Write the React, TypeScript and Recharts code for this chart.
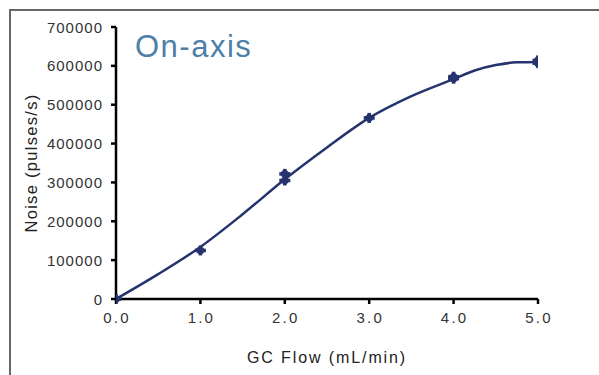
import { ComposedChart, Line, Scatter, XAxis, YAxis } from 'recharts'

// fitted curve through the measurements
const curveFlow = [0, 0.5, 1.0, 1.5, 2.0, 2.5, 3.0, 3.5, 4.0, 4.25, 4.5, 4.75, 5.0]
const curveNoise = [0, 64000, 134000, 218000, 308000, 390000, 466000, 522000, 566000, 588000, 602000, 609000, 610000]

// replicate measurements
const pointFlow = [0, 1.0, 2.0, 2.0, 3.0, 4.0, 4.0, 5.0, 5.0]
const pointNoise = [0, 125000, 305000, 322000, 466000, 567000, 572000, 607000, 614000]

const xTicks = [0, 1, 2, 3, 4, 5]
const yTicks = [0, 100000, 200000, 300000, 400000, 500000, 600000, 700000]

const curve = curveFlow.map((x, i) => ({ x, y: curveNoise[i] }))
const points = pointFlow.map((x, i) => ({ x, y: pointNoise[i] }))

const navy = '#26336d'
const font = 'Liberation Sans, Arial, sans-serif'

function StarMark(props: any) {
  const { cx, cy } = props
  if (cx == null || cy == null) return null
  return (
    <g fill={navy}>
      <rect x={cx - 5.5} y={cy - 1.8} width={11} height={3.6} />
      <rect x={cx - 1.8} y={cy - 5} width={3.6} height={10} />
      <circle cx={cx} cy={cy} r={3.8} />
    </g>
  )
}

function XTick(props: any) {
  const { x, y, payload } = props
  return (
    <text x={x + 1} y={y + 10} textAnchor="middle" fill="#333" style={{ fontSize: 15, letterSpacing: '2.2px', fontFamily: font }}>
      {Number(payload.value).toFixed(1)}
    </text>
  )
}

function YTick(props: any) {
  const { x, y, payload } = props
  return (
    <text x={x + 1} y={y + 5.5} textAnchor="end" fill="#333" style={{ fontSize: 15, letterSpacing: '1px', fontFamily: font }}>
      {payload.value}
    </text>
  )
}

export default function App() {
  return (
    <div style={{ position: 'absolute', left: 0, top: 0, width: 599, height: 375, overflow: 'hidden', background: '#fff' }}>
      <div
        style={{
          position: 'absolute', left: 9, top: 9, width: 620, height: 400,
          borderTop: '2px solid #666', borderLeft: '2px solid #666',
        }}
      />
      <ComposedChart width={599} height={375} margin={{ top: 27, right: 61, bottom: 46, left: 16 }}>
        <XAxis
          type="number"
          dataKey="x"
          domain={[0, 5]}
          ticks={xTicks}
          allowDataOverflow
          height={30}
          tick={<XTick />}
          tickSize={5}
          tickMargin={9}
          axisLine={{ stroke: '#000', strokeWidth: 2.5 }}
          tickLine={{ stroke: '#000', strokeWidth: 2.5 }}
        />
        <YAxis
          type="number"
          dataKey="y"
          domain={[0, 700000]}
          ticks={yTicks}
          width={100}
          tick={<YTick />}
          tickSize={5}
          tickMargin={9}
          axisLine={{ stroke: '#000', strokeWidth: 2.5 }}
          tickLine={{ stroke: '#000', strokeWidth: 2.5 }}
        />
        <Line
          data={curve}
          dataKey="y"
          type="monotone"
          stroke={navy}
          strokeWidth={2.5}
          dot={false}
          isAnimationActive={false}
        />
        <Scatter data={points} dataKey="y" shape={StarMark} isAnimationActive={false} />
      </ComposedChart>
      <svg width={599} height={375} style={{ position: 'absolute', left: 0, top: 0, pointerEvents: 'none' }}>
        <text x={135} y={57} fill="#4d7fa8" fontSize={31} letterSpacing={1.5} fontFamily={font}>
          On-axis
        </text>
        <text x={327} y={363} textAnchor="middle" fill="#222" fontSize={16} letterSpacing={1.9} fontFamily={font}>
          GC Flow (mL/min)
        </text>
        <text
          x={37}
          y={163}
          transform="rotate(-90 37 163)"
          textAnchor="middle"
          fill="#222"
          fontSize={16.5}
          letterSpacing={1.3}
          fontFamily={font}
        >
          Noise (pulses/s)
        </text>
      </svg>
    </div>
  )
}
